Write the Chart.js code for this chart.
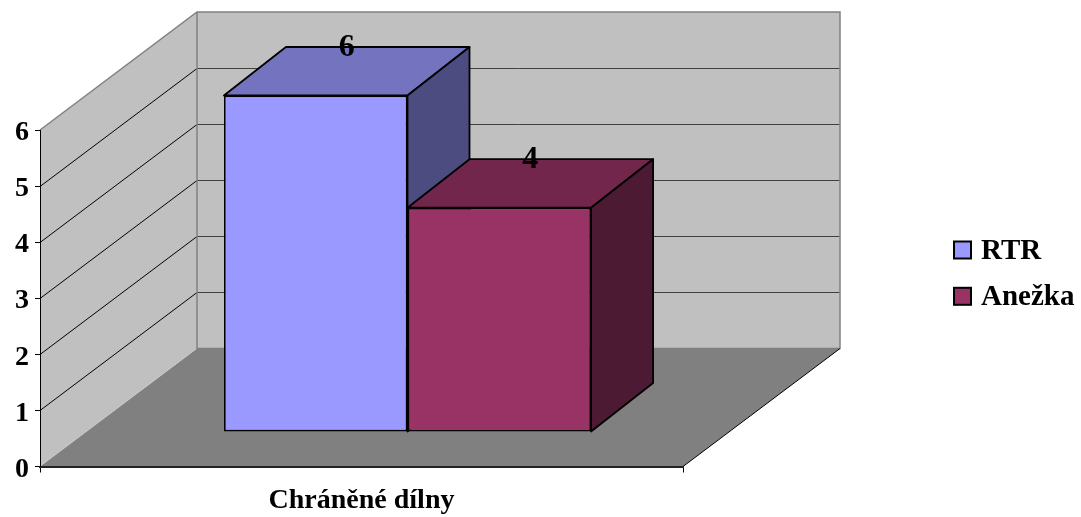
<!DOCTYPE html>
<html>
<head>
<meta charset="utf-8">
<script src="https://cdn.jsdelivr.net/npm/chart.js@4/dist/chart.umd.min.js"></script>
<style>
  html, body { margin: 0; padding: 0; background: #ffffff; }
  canvas { display: block; }
</style>
</head>
<body>
<canvas id="chart" width="1081" height="517"></canvas>
<script>
// ---- data ----
const categories = ['Chráněné dílny'];
const seriesNames = ['RTR', 'Anežka'];
const rtrValues = [6];
const anezkaValues = [4];
const valueTicks = [0, 1, 2, 3, 4, 5, 6];

// ---- look ----
const FONT = "'Liberation Serif', 'Times New Roman', serif";
const BOX_DEPTH = { x: 157, y: -118 };   // front edge of the floor -> back wall
const BAR_FRONT = { x: 46, y: -34.5 };   // front edge of the floor -> bar front faces
const BAR_DEPTH = { x: 62, y: -48.5 };   // bar front face -> bar back face
const faceColors = [
  { front: '#9999FF', top: '#7373C0', side: '#4C4C80' },
  { front: '#993366', top: '#73264C', side: '#4D1A33' }
];

function poly(ctx, pts) {
  ctx.beginPath();
  ctx.moveTo(pts[0][0], pts[0][1]);
  for (let i = 1; i < pts.length; i++) ctx.lineTo(pts[i][0], pts[i][1]);
  ctx.closePath();
}

function line(ctx, x1, y1, x2, y2) {
  ctx.beginPath();
  ctx.moveTo(x1, y1);
  ctx.lineTo(x2, y2);
  ctx.stroke();
}

// walls, floor, gridlines, extruded bars and the legend
const box3d = {
  id: 'box3d',
  beforeDraw(chart) {
    const { ctx, chartArea: a, scales: { y } } = chart;
    const dx = BOX_DEPTH.x, dy = BOX_DEPTH.y;
    const y0 = y.getPixelForValue(valueTicks[0]);
    const yMax = y.getPixelForValue(valueTicks[valueTicks.length - 1]);
    const L = a.left, R = a.right;
    ctx.save();

    // floor
    ctx.fillStyle = '#808080';
    poly(ctx, [[L, y0], [R, y0], [R + dx, y0 + dy], [L + dx, y0 + dy]]);
    ctx.fill();

    // left wall
    ctx.fillStyle = '#C0C0C0';
    poly(ctx, [[L, y0], [L, yMax], [L + dx, yMax + dy], [L + dx, y0 + dy]]);
    ctx.fill();

    // back wall
    poly(ctx, [[L + dx, yMax + dy], [R + dx, yMax + dy], [R + dx, y0 + dy], [L + dx, y0 + dy]]);
    ctx.fill();

    // gridlines
    ctx.lineWidth = 1;
    valueTicks.forEach(v => {
      if (v === valueTicks[0] || v === valueTicks[valueTicks.length - 1]) return;
      const py = Math.round(y.getPixelForValue(v)) + 0.5;
      ctx.strokeStyle = '#000000';
      line(ctx, L, py, L + dx, py + dy);
      ctx.strokeStyle = '#404040';
      line(ctx, L + dx, py + dy, R + dx, py + dy);
    });

    // wall edges
    ctx.strokeStyle = '#808080';
    ctx.lineWidth = 1.5;
    ctx.beginPath();
    ctx.moveTo(L, yMax);
    ctx.lineTo(L + dx, yMax + dy);
    ctx.lineTo(R + dx, yMax + dy);
    ctx.lineTo(R + dx, y0 + dy);
    ctx.lineTo(L + dx, y0 + dy);
    ctx.lineTo(L + dx, yMax + dy);
    ctx.stroke();

    // floor right edge
    ctx.strokeStyle = '#000000';
    ctx.lineWidth = 1;
    line(ctx, R, y0, R + dx, y0 + dy);

    ctx.restore();
  },

  // the bars are drawn below, series by series, back to front
  beforeDatasetDraw() {
    return false;
  },

  afterDatasetsDraw(chart) {
    const ctx = chart.ctx;
    chart.data.datasets.forEach((ds, idx) => {
      const meta = chart.getDatasetMeta(idx);
      const colors = faceColors[idx];
      meta.data.forEach((el, i) => {
        // front face, pushed part-way into the depth of the box
        ctx.save();
        ctx.translate(BAR_FRONT.x, BAR_FRONT.y);
        el.draw(ctx);
        ctx.restore();

        const p = el.getProps(['x', 'y', 'base', 'width'], true);
        const l = p.x - p.width / 2 + BAR_FRONT.x;
        const r = p.x + p.width / 2 + BAR_FRONT.x;
        const t = p.y + BAR_FRONT.y;
        const b = p.base + BAR_FRONT.y;
        const bx = BAR_DEPTH.x, by = BAR_DEPTH.y;
        ctx.save();
        ctx.lineWidth = 1.8;
        ctx.strokeStyle = '#000000';
        ctx.lineJoin = 'round';
        // top face
        ctx.fillStyle = colors.top;
        poly(ctx, [[l, t], [r, t], [r + bx, t + by], [l + bx, t + by]]);
        ctx.fill(); ctx.stroke();
        // side face
        ctx.fillStyle = colors.side;
        poly(ctx, [[r, t], [r + bx, t + by], [r + bx, b + by], [r, b]]);
        ctx.fill(); ctx.stroke();
        // value label
        ctx.fillStyle = '#000000';
        ctx.font = 'bold 32px ' + FONT;
        ctx.textAlign = 'center';
        ctx.textBaseline = 'middle';
        ctx.fillText(String(ds.data[i]), (l + r) / 2 + bx / 2, t + by + 1);
        ctx.restore();
      });
    });
  },

  // legend
  afterDraw(chart) {
    const ctx = chart.ctx;
    ctx.save();
    chart.data.datasets.forEach((ds, i) => {
      const cy = 250.5 + i * 46.3;
      ctx.fillStyle = ds.backgroundColor;
      ctx.fillRect(954, cy - 9, 17, 17);
      ctx.strokeStyle = '#000000';
      ctx.lineWidth = 2;
      ctx.strokeRect(954, cy - 9, 17, 17);
      ctx.fillStyle = '#000000';
      ctx.font = 'bold 29px ' + FONT;
      ctx.textAlign = 'left';
      ctx.textBaseline = 'middle';
      ctx.fillText(ds.label, 981, cy + 1);
    });
    ctx.restore();
  }
};

new Chart(document.getElementById('chart'), {
  type: 'bar',
  data: {
    labels: categories,
    datasets: [
      {
        label: seriesNames[0],
        data: rtrValues,
        backgroundColor: faceColors[0].front,
        borderColor: '#000000',
        borderWidth: 1.8,
        borderSkipped: false,
        clip: false
      },
      {
        label: seriesNames[1],
        data: anezkaValues,
        backgroundColor: faceColors[1].front,
        borderColor: '#000000',
        borderWidth: 1.8,
        borderSkipped: false,
        clip: false
      }
    ]
  },
  options: {
    responsive: false,
    animation: false,
    events: [],
    layout: { padding: { left: 0, right: 398, top: 130, bottom: 0 } },
    datasets: { bar: { categoryPercentage: 0.571, barPercentage: 1 } },
    plugins: { legend: { display: false }, tooltip: { enabled: false } },
    scales: {
      x: {
        afterFit(s) { s.height = 50.5; },
        grid: { drawOnChartArea: false, drawTicks: true, tickLength: 6, color: '#000000', lineWidth: 1 },
        border: { display: true, color: '#222222', width: 2 },
        ticks: { color: '#000000', padding: 11, font: { family: FONT, size: 28, weight: 'bold' } }
      },
      y: {
        min: valueTicks[0],
        max: valueTicks[valueTicks.length - 1],
        afterFit(s) { s.width = 40; },
        afterBuildTicks(s) { s.ticks = valueTicks.map(v => ({ value: v })); },
        grid: { drawOnChartArea: false, drawTicks: true, tickLength: 5, color: '#000000', lineWidth: 1 },
        border: { display: true, color: '#000000', width: 1 },
        ticks: { color: '#000000', padding: 6, labelOffset: 3, font: { family: FONT, size: 28, weight: 'bold' } }
      }
    }
  },
  plugins: [box3d]
});
</script>
</body>
</html>
